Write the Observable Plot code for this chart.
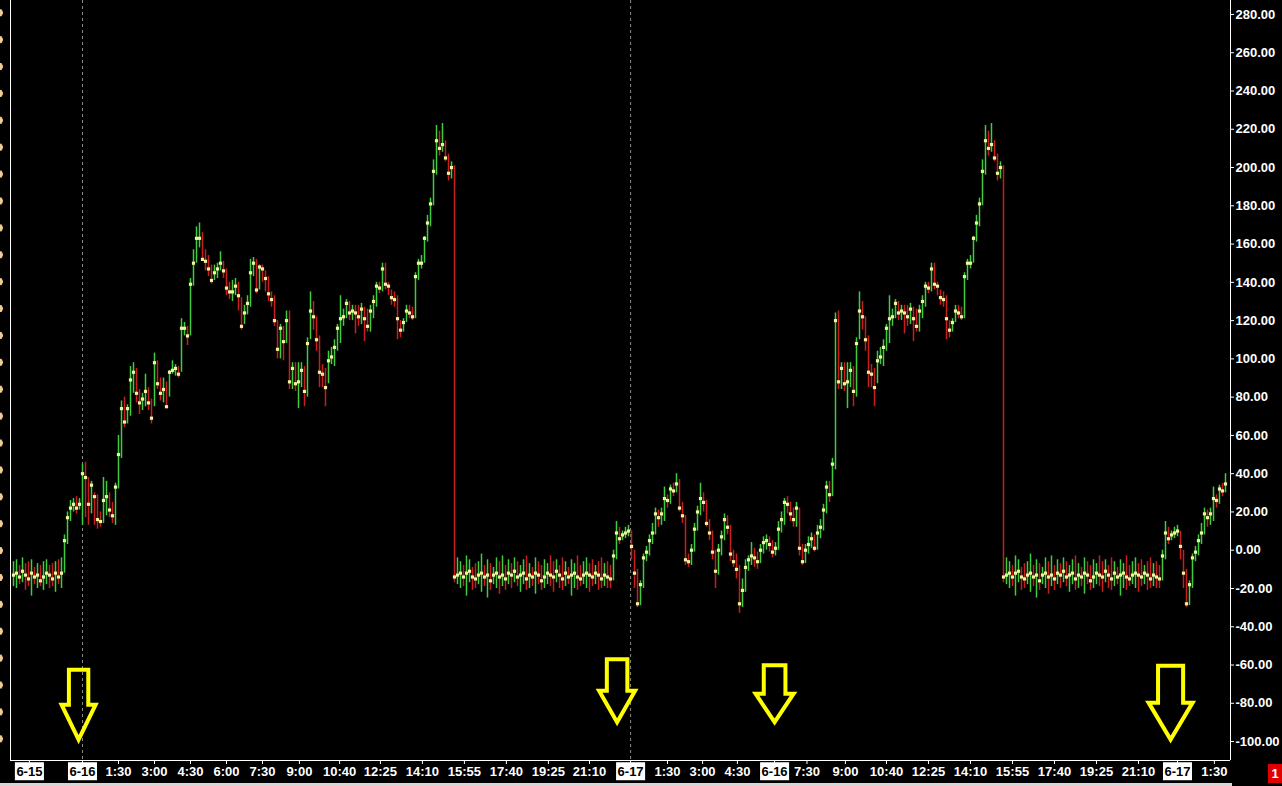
<!DOCTYPE html>
<html>
<head>
<meta charset="utf-8">
<script src="https://cdn.jsdelivr.net/npm/d3@7"></script>
<script src="https://cdn.jsdelivr.net/npm/@observablehq/plot@0.6"></script>
<style>
  body { margin: 0; background: #000; overflow: hidden; }
  #wrap { position: relative; width: 1282px; height: 786px; }
  #chart svg { display: block; }
  .pane-edge {
    position: absolute; left: 0; top: 0; width: 3px; height: 750px;
    background-image: radial-gradient(ellipse 2.5px 4px at 0.5px 50%, #f0cb94 80%, transparent 100%);
    background-size: 3px 26.9px; background-position: 0 -0.7px;
  }
  .page-tab {
    position: absolute; left: 1268px; top: 764px; width: 14px; height: 19px;
    background: #e00000; color: #fff; font: bold 13px "Liberation Sans", Arial, sans-serif;
    text-align: center; line-height: 19px;
  }
  .strip { position: absolute; left: 0; top: 783px; width: 1232px; height: 3px; background: #d6d6d6; }
</style>
</head>
<body>
<div id="wrap">
  <div id="chart"></div>
  <div class="pane-edge"></div>
  <div class="page-tab">1</div>
  <div class="strip"></div>
</div>
<script>
// session before the first run-up (flat, then climbing to ~150 and back to ~120)
const leadClose = [-13,-12,-14,-11,-13,-15,-12,-14,-13,-16, -14,-12,-13,-15,-12,-14,-12,5,17,22,
  24,22,24,40,38,24,34,28,16,15, 26,28,21,18,33,50,74,67,74,89, 93,82,77,79,83,77,69,98,87,82,
  84,75,93,94,95,92,116,116,112,139, 150,163,163,152,151,147,141,145,147,150,
  146,137,135,135,138,133,117,124,129,145, 150,136,148,147,142,134,131,120,105,116, 109,120];
const leadHigh = [-6,-5,-8,-4,-7,-6,-5,-9,-7,-8, -6,-5,-8,-7,-6,-5,-4,8,20,26,
  27,28,27,45,46,38,36,30,29,20, 38,36,30,25,35,60,78,80,76,96, 98,95,84,82,92,85,79,103,99,90,
  90,88,94,99,97,96,121,119,117,142, 157,169,171,166,157,154,149,149,150,156,
  151,147,140,141,142,140,132,128,133,152, 153,152,149,149,146,143,135,133,120,118, 117,125];
const leadLow = [-19,-20,-18,-17,-21,-19,-24,-18,-20,-19, -21,-18,-20,-19,-22,-18,-20,-12,3,15,
  20,19,21,13,17,13,19,13,11,12, 14,18,17,14,13,32,48,64,66,70, 82,77,71,73,75,73,66,75,84,78,
  77,74,80,92,91,90,93,112,107,112, 138,150,158,151,146,143,139,141,142,146,
  142,133,131,130,133,125,115,118,123,127, 143,134,136,140,135,130,127,117,100,100, 99,108];

// the repeated day: dip to ~85, climb to ~220, drop to the flat
const runupClose = [88,95,87,88,94,83,108,125,122,110, 93,92,85,99,101,106,116,121,122,129,
  124,125,124,122,126,121,117,125,130,138, 137,147,139,138,132,131,121,115,119,125,
  124,122,143,150,150,163,171,181,198,214, 210,212,205,197,200,-14];
const runupHigh = [125,98,98,98,98,96,111,135,130,122, 112,97,95,104,106,110,118,133,126,131,
  130,128,128,128,129,127,126,128,133,140, 140,150,150,140,136,135,133,120,121,128,
  128,127,145,152,154,164,175,184,204,222, 219,223,214,207,203,201];
const runupLow = [84,84,83,74,85,75,80,110,115,104, 85,85,75,87,97,96,104,108,117,121,
  120,120,113,117,118,109,114,114,121,127, 134,135,136,133,128,127,110,111,114,119,
  121,120,121,141,147,150,161,169,180,196, 206,208,203,193,194,-17];

const flatClose = [-13,-12,-14,-12,-11,-14,-15,-13,-12,-14, -13,-16,-13,-12,-14,-13,-15,-12,-13,-11,
  -14,-13,-12,-15,-13,-14,-12,-13,-16,-14, -12,-13,-14,-11,-13,-15,-12,-14,-13,-12,
  -14,-15,-13,-12,-13,-14,-12,-13,-15,-13, -14];
const flatHigh = [-4,-6,-8,-3,-5,-9,-7,-6,-2,-8, -5,-7,-9,-4,-6,-3,-8,-5,-7,-4,
  -6,-8,-5,-3,-7,-9,-4,-6,-8,-5, -7,-3,-6,-5,-8,-4,-6,-9,-5,-7,
  -3,-8,-6,-4,-7,-5,-8,-6,-4,-7, -6];
const flatLow = [-18,-20,-19,-24,-17,-21,-20,-18,-22,-19, -25,-21,-18,-20,-23,-19,-21,-18,-20,-17,
  -19,-22,-18,-21,-20,-19,-23,-18,-21,-20, -18,-19,-22,-17,-20,-21,-19,-18,-24,-20,
  -21,-19,-18,-20,-22,-19,-18,-21,-20,-19, -20];

const tailClose = [-15,-3,9,6,8,9,10,2,-12,-28, -18,-4,-1,5,9,19,17,19,27,26, 32,31,34.64];
const tailHigh = [-8,0,15,12,10,12,13,10,0,-10, -16,-2,2,8,14,22,21,22,33,29, 34,35,40];
const tailLow = [-20,-16,-5,3,5,6,7,-5,-20,-30, -29,-20,-6,-3,3,8,12,13,15,22, 24,28,30];

// between the two copies of the day: chop around zero, then the jump to 120
const gapClose = [22,18,-5,-6,0,11,20,27,25,14, 9,-1,-11,0,7,16,12,-2,-6,-10,
  -28,-21,-9,-5,-3,-4,-6,0,4,5, 3,-1,1,11,16,25,24,19,16,22, 1,-6,0,3,6,1,9,12,21,33, 29,45,120];
const gapHigh = [37,25,18,-2,3,14,23,35,30,26, 16,10,0,3,10,19,18,13,0,-2,
  -8,-15,-5,-3,4,1,-1,3,7,8, 7,5,4,15,20,27,28,25,22,25, 22,3,3,7,9,8,13,16,24,36, 36,48,124];
const gapLow = [20,14,-8,-9,-8,-1,10,18,20,12, 5,-5,-20,-13,-3,5,8,-6,-9,-15,
  -33,-30,-22,-11,-8,-9,-10,-7,-2,0, -1,-4,-3,0,9,13,19,15,12,12, -3,-8,-7,-2,1,-1,0,6,10,19, 25,28,42];

// axes
const yTicks = [-100,-80,-60,-40,-20,0,20,40,60,80,100,120,140,160,180,200,220,240,260,280];
const xTicks = [5.3,23,35,47,59,71,83,95.3,108.7,122.3,136.3,150.3,164.3,178.3,192,205.7,
  218,229.7,241.3,253.7,264.5,277.3,291,305,319,333,347,361,375,388,400.3];
const xTickLabels = ["6-15","6-16","1:30","3:00","4:30","6:00","7:30","9:00","10:40","12:25","14:10","15:55","17:40","19:25","21:10","6-17",
  "1:30","3:00","4:30","6-16","7:30","9:00","10:40","12:25","14:10","15:55","17:40","19:25","21:10","6-17","1:30"];
const sessionBreaks = [23, 205.7];

// annotation arrows (tip position in bar index / price)
const arrowIdx = [21.7, 201.2, 253.7, 385.7];
const arrowTip = [-99, -89.9, -89.9, -99];

const dayClose = [...runupClose, ...flatClose, ...tailClose];
const dayHigh = [...runupHigh, ...flatHigh, ...tailHigh];
const dayLow = [...runupLow, ...flatLow, ...tailLow];
const closes = [...leadClose, ...dayClose, ...gapClose, ...dayClose];
const highs = [...leadHigh, ...dayHigh, ...gapHigh, ...dayHigh];
const lows = [...leadLow, ...dayLow, ...gapLow, ...dayLow];
const bars = closes.map((c, i) => ({i, close: c, high: highs[i], low: lows[i], up: i === 0 || c >= closes[i - 1]}));
const lastClose = closes[closes.length - 1];

const xDomain = [-1, 405.67];
const yDomain = [-109.9, 287.3];
const labelFor = new Map(xTicks.map((t, k) => [t, xTickLabels[k]]));
const arrowLen = [70, 63, 57, 74];
const arrowSize = [17, 18, 19, 22];

const hollowArrow = {
  draw(context, l, r) {
    const shaft = r * 0.57, neck = -l * 0.5;
    context.moveTo(-shaft, 0);
    context.lineTo(-shaft, neck);
    context.lineTo(-r, neck);
    context.lineTo(0, -l);
    context.lineTo(r, neck);
    context.lineTo(shaft, neck);
    context.lineTo(shaft, 0);
    context.closePath();
  }
};

const chart = Plot.plot({
  width: 1282,
  height: 786,
  marginLeft: 10,
  marginRight: 52,
  marginTop: 0,
  marginBottom: 26,
  style: {background: "#000", color: "#fff", fontSize: "13px", fontFamily: "'Liberation Sans', Arial, sans-serif", fontWeight: "bold"},
  x: {domain: xDomain, label: null},
  y: {domain: yDomain, label: null},
  marks: [
    Plot.ruleX(sessionBreaks, {stroke: "#8c8c8c", strokeDasharray: "3,3"}),
    Plot.ruleX(bars, {x: "i", y1: "low", y2: "high", stroke: d => d.up ? "#3fcc3f" : "#c81e1e", strokeWidth: 1.5}),
    Plot.dot(bars, {x: "i", y: "close", symbol: "square", r: 1.8, fill: "#eef59c"}),
    arrowIdx.map((x, k) => Plot.vector([k], {
      x: () => x, y: () => arrowTip[k], length: arrowLen[k], r: arrowSize[k], rotate: 180, anchor: "end",
      shape: hollowArrow, stroke: "#ffff00", strokeWidth: 4, fill: "none", strokeLinejoin: "miter"
    })),
    Plot.ruleX([xDomain[0]], {stroke: "#fff"}),
    Plot.ruleX([xDomain[1]], {stroke: "#fff"}),
    Plot.ruleY([yDomain[0]], {stroke: "#fff"}),
    Plot.axisY(yTicks, {anchor: "right", tickSize: 3, tickPadding: 2, tickFormat: d => d.toFixed(2)}),
    Plot.axisX(xTicks, {anchor: "bottom", tickSize: 4, tickPadding: 2, tickFormat: d => labelFor.get(d)}),
    Plot.text([lastClose], {x: xDomain[1], y: d => d, text: d => d.toFixed(2), textAnchor: "start", dx: 4, fill: "#000", ariaLabel: "last price"})
  ]
});
document.getElementById("chart").append(chart);

// white boxes behind date labels and the last price
const ns = "http://www.w3.org/2000/svg";
function boxBehind(text, px, py) {
  const b = text.getBBox();
  const rect = document.createElementNS(ns, "rect");
  rect.setAttribute("x", b.x - px);
  rect.setAttribute("y", b.y - py);
  rect.setAttribute("width", b.width + 2 * px);
  rect.setAttribute("height", b.height + 2 * py);
  rect.setAttribute("fill", "#fff");
  rect.setAttribute("stroke", "none");
  const t = text.getAttribute("transform");
  if (t) rect.setAttribute("transform", t);
  text.parentNode.insertBefore(rect, text);
  text.setAttribute("fill", "#000");
}
d3.select(chart).selectAll("text")
  .filter(function() { return /^\d+-\d+$/.test(this.textContent); })
  .each(function() { boxBehind(this, 1.5, 1.5); });
d3.select(chart).selectAll('g[aria-label="last price"] text')
  .each(function() { boxBehind(this, 1, 0); });
</script>
</body>
</html>
